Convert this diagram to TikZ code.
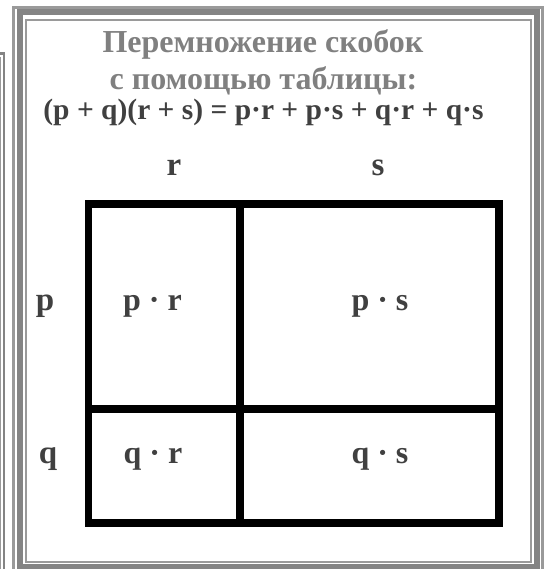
\documentclass[tikz,border=0pt]{standalone}
\usepackage{fontspec}
\setmainfont{Liberation Serif}
\definecolor{titlegray}{HTML}{808080}
\definecolor{textgray}{HTML}{404040}
\definecolor{framegray}{HTML}{848484}
\definecolor{framelight}{HTML}{9A9A9A}
\tikzset{
  titletext/.style={anchor=base, inner sep=0pt, text=titlegray, font=\fontsize{32}{32}\selectfont\bfseries},
  eqtext/.style={anchor=base, inner sep=0pt, text=textgray, font=\fontsize{29.5}{30}\selectfont\bfseries},
  labeltext/.style={anchor=base, inner sep=0pt, text=textgray, font=\fontsize{33}{33}\selectfont\bfseries},
  celltext/.style={anchor=base, inner sep=0pt, text=textgray, font=\fontsize{32}{32}\selectfont\bfseries},
  tableline/.style={line width=7.5pt, draw=black, line join=miter, line cap=rect},
}
\begin{document}
\begin{tikzpicture}[x=1pt, y=-1pt]
\useasboundingbox (0,0) rectangle (547,569);
\clip (0,0) rectangle (547,569);
\fill[white] (0,0) rectangle (547,569);
% partial box on the left
\draw[framegray, line width=2.5pt] (-5,53.5) -- (4,53.5) -- (4,580);
\draw[framelight, line width=1.2pt] (-5,57.5) -- (0.8,57.5) -- (0.8,580);
% main triple frame
\draw[framelight, line width=3pt] (13.5,7.5) rectangle (542,572);
\draw[framegray, line width=6pt] (20,12.5) rectangle (537,567);
\draw[framelight, line width=2pt] (26,20) rectangle (531,562);
% texts
\node[titletext] (t1) at (263,53) {Перемножение скобок};
\node[titletext] (t2) at (263.5,90) {с помощью таблицы:};
\node[eqtext] (eq) at (263.5,120) {(p + q)(r + s) = p·r + p·s + q·r + q·s};
\node[labeltext] (lr) at (174,175.5) {r};
\node[labeltext] (ls) at (378,175.5) {s};
\node[labeltext] (lp) at (45,310) {p};
\node[labeltext] (lq) at (48,463) {q};
\node[celltext] (pr) at (152.5,310) {p · r};
\node[celltext] (ps) at (380,310) {p · s};
\node[celltext] (qr) at (153,463) {q · r};
\node[celltext] (qs) at (380,463) {q · s};
% table
\draw[tableline] (88.5,204) rectangle (499,523);
\draw[tableline] (240,204) -- (240,523);
\draw[tableline] (88.5,409) -- (499,409);
\end{tikzpicture}
\end{document}
